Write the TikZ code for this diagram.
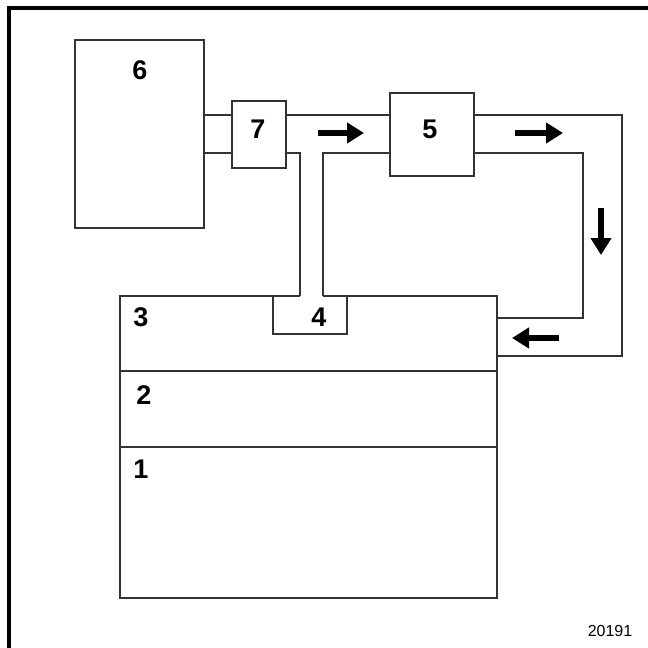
\documentclass[tikz,border=0pt]{standalone}
\usepackage{fontspec}
\setmainfont{Liberation Sans}
\usetikzlibrary{arrows.meta}
\begin{document}
\begin{tikzpicture}[x=1pt,y=-1pt,
 box/.style={draw=black!80, line width=1.6pt, rectangle, inner sep=0pt},
 pipe/.style={draw=black!80, line width=1.6pt},
 lbl/.style={font=\fontsize{27}{27}\selectfont\bfseries, inner sep=0pt},
 flow/.style={line width=5.5pt, -{Triangle[length=17pt,width=20pt]}},
 frame/.style={line width=3.2pt}]
\useasboundingbox (0,0) rectangle (648,648);
% frame
\draw[frame] (9,648) -- (9,8) -- (648,8);
% reference rows of the pipes
\coordinate (yt) at (0,115);
\coordinate (yb) at (0,153);
\coordinate (xa) at (300,0);
\coordinate (xb) at (323,0);
\coordinate (xc) at (583,0);
\coordinate (xd) at (622,0);
% boxes
\node[box, minimum width=129pt, minimum height=188pt] (b6) at (139.5,134) {};
\node[box, minimum width=54pt, minimum height=67pt, fill=white] (b7) at (259,134.5) {};
\node[box, minimum width=84pt, minimum height=83pt, fill=white] (b5) at (432,134.5) {};
% tank sections (outline drawn below)
\node[minimum width=377pt, minimum height=75pt, inner sep=0pt] (b3) at (308.5,333.5) {};
\node[minimum width=377pt, minimum height=76pt, inner sep=0pt] (b2) at (308.5,409) {};
\node[minimum width=377pt, minimum height=151pt, inner sep=0pt] (b1) at (308.5,522.5) {};
\node[minimum width=74pt, minimum height=38pt, inner sep=0pt] (b4) at (310,315) {};
% tank outline
\draw[pipe] (xa |- b3.north) -- (b3.north west) -- (b1.south west) -- (b1.south east) -- (b3.north east) -- (xb |- b3.north);
\draw[pipe] (b3.south west) -- (b3.south east);
\draw[pipe] (b2.south west) -- (b2.south east);
\draw[pipe] (b4.north west) -- (b4.south west) -- (b4.south east) -- (b4.north east);
% pipes
\draw[pipe] (b6.east |- yt) -- (b7.west |- yt);
\draw[pipe] (b6.east |- yb) -- (b7.west |- yb);
\draw[pipe] (b7.east |- yt) -- (b5.west |- yt);
\draw[pipe] (b7.east |- yb) -- (xa |- yb) -- (xa |- b4.north);
\draw[pipe] (b5.west |- yb) -- (xb |- yb) -- (xb |- b4.north);
\draw[pipe] (b5.east |- yt) -- (xd |- yt) -- (xd |- 0,356) -- (b3.east |- 0,356);
\draw[pipe] (b5.east |- yb) -- (xc |- yb) -- (xc |- 0,318) -- (b3.east |- 0,318);
% flow arrows
\coordinate (f1s) at (318,133); \coordinate (f1e) at (364,133);
\coordinate (f2s) at (515,133); \coordinate (f2e) at (563,133);
\coordinate (f3s) at (601,208); \coordinate (f3e) at (601,255);
\coordinate (f4s) at (559,338); \coordinate (f4e) at (512,338);
\draw[flow] (f1s) -- (f1e);
\draw[flow] (f2s) -- (f2e);
\draw[flow] (f3s) -- (f3e);
\draw[flow] (f4s) -- (f4e);
% labels
\node[lbl] (l6) at (140,70) {6};
\node[lbl] (l7) at (258,129) {7};
\node[lbl] (l5) at (430,129) {5};
\node[lbl] (l4) at (319,317) {4};
\node[lbl] (l3) at (141,317) {3};
\node[lbl] (l2) at (144,395) {2};
\node[lbl] (l1) at (141,469) {1};
\node[font=\fontsize{16}{16}\selectfont, inner sep=0pt] (ref) at (610,631) {20191};
\end{tikzpicture}
\end{document}
